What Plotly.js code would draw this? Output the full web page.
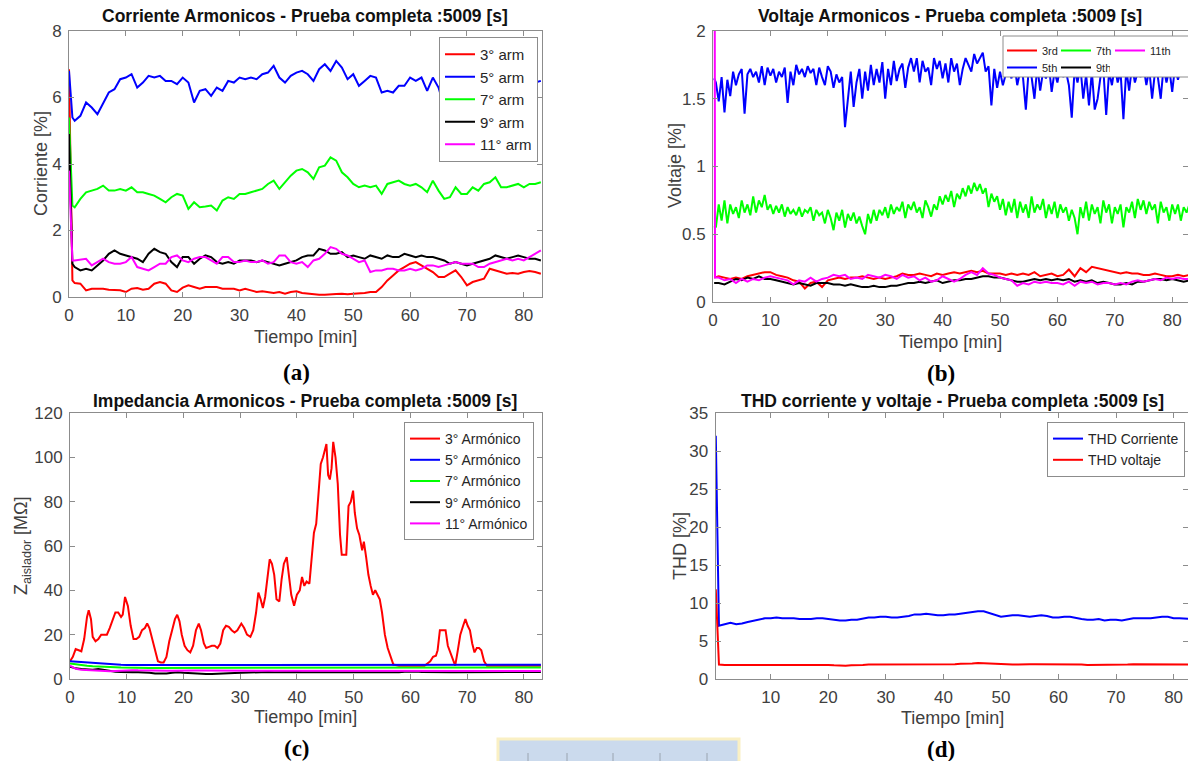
<!DOCTYPE html>
<html><head><meta charset="utf-8">
<script src="https://cdn.plot.ly/plotly-3.0.1.min.js"></script>
<style>html,body{margin:0;padding:0;background:#fff}#chart{width:1188px;height:761px}</style>
</head><body><div id="chart"></div>
<script>
// ---------- Panel (a): Corriente armonicos [%] ----------
const tA = [0,0.6,
1,2,3,4,5,6,7,8,9,10,
11,12,13,14,15,16,17,18,19,20,
21,22,23,24,25,26,27,28,29,30,
31,32,33,34,35,36,37,38,39,40,
41,42,43,44,45,46,47,48,49,50,
51,52,53,54,55,56,57,58,59,60,
61,62,63,64,65,66,67,68,69,70,
71,72,73,74,75,76,77,78,79,80,
81,82,83];
const arm3A = [6.85,0.5,
0.42,0.4,0.2,0.25,0.25,0.25,0.22,0.2,0.2,0.15,
0.25,0.27,0.22,0.25,0.4,0.45,0.4,0.2,0.15,0.28,
0.35,0.3,0.25,0.3,0.3,0.3,0.25,0.25,0.25,0.2,
0.25,0.2,0.15,0.17,0.15,0.12,0.15,0.1,0.15,0.17,
0.12,0.1,0.08,0.07,0.07,0.07,0.09,0.1,0.08,0.1,
0.1,0.12,0.15,0.15,0.3,0.5,0.65,0.8,0.9,1.0,
1.05,0.95,0.85,0.75,0.6,0.6,0.7,0.8,0.6,0.35,
0.45,0.5,0.55,0.85,0.8,0.75,0.7,0.72,0.7,0.75,
0.78,0.75,0.7];
const arm5A = [6.8,5.4,
5.3,5.45,5.85,5.7,5.5,5.85,6.15,6.25,6.55,6.6,
6.7,6.3,6.45,6.65,6.6,6.65,6.5,6.5,6.4,6.6,
6.45,5.85,6.2,6.25,6.05,6.3,6.2,6.5,6.45,6.6,
6.55,6.6,6.55,6.7,6.75,6.95,6.6,6.45,6.65,6.75,
6.8,6.7,6.5,6.85,7.0,6.8,7.1,6.9,6.55,6.7,
6.35,6.5,6.65,6.6,6.15,6.2,6.15,6.35,6.35,6.6,
6.5,6.6,6.2,6.6,6.3,5.7,5.9,6.1,6.2,6.3,
6.4,6.3,6.2,6.4,6.5,6.4,6.3,6.4,6.5,6.4,
6.35,6.45,6.5];
const arm7A = [5.4,2.75,
2.7,2.95,3.15,3.2,3.25,3.35,3.2,3.2,3.25,3.2,
3.3,3.15,3.15,3.1,3.05,2.95,2.85,3.0,3.1,3.05,
2.65,2.85,2.7,2.72,2.75,2.6,2.9,3.0,2.95,3.1,
3.1,3.15,3.2,3.25,3.4,3.5,3.25,3.45,3.65,3.8,
3.85,3.75,3.55,3.9,3.95,4.2,4.1,3.75,3.6,3.4,
3.3,3.35,3.3,3.35,3.1,3.4,3.45,3.5,3.4,3.35,
3.4,3.3,3.15,3.5,3.2,2.95,3.0,3.3,3.1,3.1,
3.3,3.2,3.4,3.45,3.6,3.3,3.3,3.35,3.4,3.3,
3.4,3.4,3.45];
const arm9A = [4.9,1.0,
0.9,0.8,0.85,0.8,0.95,1.1,1.3,1.4,1.3,1.25,
1.2,1.15,1.05,1.3,1.45,1.35,1.3,1.05,0.9,1.2,
1.2,1.0,1.15,1.25,1.2,1.05,1.0,1.05,1.0,1.1,
1.1,1.1,1.05,1.1,1.05,1.0,0.95,1.0,1.05,1.1,
1.2,1.25,1.25,1.45,1.4,1.3,1.3,1.35,1.2,1.25,
1.2,1.15,1.25,1.2,1.15,1.25,1.2,1.2,1.3,1.25,
1.2,1.25,1.2,1.2,1.15,1.1,1.0,1.05,1.0,0.95,
1.0,1.05,1.1,1.15,1.25,1.2,1.15,1.2,1.25,1.2,
1.15,1.15,1.1];
const arm11A = [3.8,1.1,
1.1,1.12,1.15,0.95,1.05,1.15,1.05,1.0,1.0,1.05,
1.2,0.9,0.85,0.8,0.9,1.0,1.0,1.2,1.25,1.1,
1.05,1.15,1.2,1.2,1.1,1.0,1.2,1.2,1.05,1.05,
1.1,1.05,1.05,1.1,1.0,1.05,1.25,1.25,1.05,1.0,
1.05,0.9,1.1,1.15,1.3,1.5,1.45,1.3,1.25,1.15,
1.05,1.1,0.75,0.8,0.8,0.85,0.85,0.8,0.8,0.85,
0.8,0.85,0.95,0.95,0.9,0.95,1.0,1.05,1.0,1.0,
1.0,0.9,0.9,1.0,1.05,1.1,1.15,1.1,1.15,1.1,
1.2,1.3,1.4];
const namesA = ['3° arm','5° arm','7° arm','9° arm','11° arm'];

// ---------- Panel (b): Voltaje armonicos [%] ----------
const tB = [0.2,
0.5,1,1.5,2,2.5,3,3.5,4,4.5,5,
5.5,6,6.5,7,7.5,8,8.5,9,9.5,10,
10.5,11,11.5,12,12.5,13,13.5,14,14.5,15,
15.5,16,16.5,17,17.5,18,18.5,19,19.5,20,
20.5,21,21.5,22,22.5,23,23.5,24,24.5,25,
25.5,26,26.5,27,27.5,28,28.5,29,29.5,30,
30.5,31,31.5,32,32.5,33,33.5,34,34.5,35,
35.5,36,36.5,37,37.5,38,38.5,39,39.5,40,
40.5,41,41.5,42,42.5,43,43.5,44,44.5,45,
45.5,46,46.5,47,47.5,48,48.5,49,49.5,50,
50.5,51,51.5,52,52.5,53,53.5,54,54.5,55,
55.5,56,56.5,57,57.5,58,58.5,59,59.5,60,
60.5,61,61.5,62,62.5,63,63.5,64,64.5,65,
65.5,66,66.5,67,67.5,68,68.5,69,69.5,70,
70.5,71,71.5,72,72.5,73,73.5,74,74.5,75,
75.5,76,76.5,77,77.5,78,78.5,79,79.5,80,
80.5,81,81.5,82,82.5,83];
const arm5B = [1.65,
1.62,1.48,1.66,1.40,1.64,1.52,1.70,1.60,1.68,1.72,
1.39,1.68,1.72,1.66,1.70,1.62,1.74,1.60,1.73,1.67,
1.72,1.62,1.70,1.66,1.73,1.47,1.70,1.60,1.75,1.68,
1.72,1.66,1.74,1.69,1.72,1.60,1.73,1.66,1.60,1.74,
1.70,1.58,1.68,1.62,1.66,1.29,1.50,1.70,1.44,1.62,
1.72,1.50,1.70,1.56,1.75,1.60,1.72,1.62,1.77,1.50,
1.72,1.60,1.78,1.63,1.72,1.76,1.58,1.73,1.80,1.70,
1.80,1.62,1.78,1.70,1.73,1.60,1.80,1.72,1.78,1.65,
1.76,1.62,1.80,1.70,1.76,1.60,1.72,1.80,1.75,1.70,
1.83,1.76,1.80,1.84,1.70,1.74,1.45,1.72,1.58,1.70,
1.60,1.68,1.72,1.65,1.76,1.60,1.70,1.66,1.42,1.72,
1.66,1.50,1.74,1.56,1.70,1.65,1.75,1.55,1.70,1.62,
1.74,1.66,1.70,1.60,1.36,1.72,1.62,1.74,1.50,1.68,
1.45,1.70,1.42,1.50,1.66,1.72,1.38,1.70,1.60,1.74,
1.62,1.70,1.35,1.72,1.56,1.74,1.62,1.70,1.66,1.74,
1.60,1.72,1.50,1.70,1.66,1.50,1.74,1.62,1.72,1.55,
1.74,1.64,1.72,1.68,1.74,1.70];
const arm7B = [0.56,
0.55,0.72,0.60,0.75,0.58,0.72,0.65,0.70,0.62,0.75,
0.66,0.72,0.64,0.78,0.66,0.75,0.70,0.79,0.68,0.72,
0.65,0.71,0.66,0.72,0.63,0.70,0.65,0.68,0.64,0.70,
0.63,0.68,0.66,0.70,0.60,0.68,0.64,0.66,0.58,0.68,
0.62,0.53,0.66,0.60,0.68,0.55,0.65,0.60,0.66,0.58,
0.63,0.56,0.50,0.65,0.58,0.68,0.60,0.68,0.64,0.70,
0.62,0.72,0.65,0.70,0.67,0.74,0.62,0.72,0.68,0.74,
0.66,0.70,0.62,0.75,0.70,0.63,0.72,0.68,0.78,0.72,
0.79,0.74,0.82,0.70,0.80,0.76,0.84,0.78,0.86,0.80,
0.88,0.82,0.87,0.80,0.84,0.70,0.80,0.74,0.78,0.68,
0.76,0.64,0.74,0.66,0.76,0.62,0.74,0.66,0.72,0.62,
0.78,0.66,0.72,0.68,0.76,0.62,0.72,0.65,0.74,0.62,
0.72,0.66,0.70,0.60,0.68,0.62,0.50,0.70,0.62,0.74,
0.60,0.72,0.65,0.70,0.58,0.75,0.66,0.72,0.58,0.70,
0.65,0.72,0.55,0.70,0.66,0.74,0.62,0.76,0.68,0.75,
0.65,0.74,0.68,0.72,0.58,0.74,0.66,0.70,0.60,0.72,
0.65,0.72,0.60,0.70,0.66,0.72];
const tB1 = [0.2,
1,2,3,4,5,6,7,8,9,10,
11,12,13,14,15,16,17,18,19,20,
21,22,23,24,25,26,27,28,29,30,
31,32,33,34,35,36,37,38,39,40,
41,42,43,44,45,46,47,48,49,50,
51,52,53,54,55,56,57,58,59,60,
61,62,63,64,65,66,67,68,69,70,
71,72,73,74,75,76,77,78,79,80,
81,82,83];
const arm3B = [0.18,
0.19,0.18,0.17,0.18,0.17,0.19,0.2,0.21,0.22,0.22,
0.2,0.19,0.18,0.16,0.15,0.1,0.14,0.15,0.11,0.16,
0.17,0.18,0.17,0.18,0.18,0.19,0.18,0.17,0.18,0.17,
0.18,0.19,0.21,0.2,0.2,0.21,0.2,0.19,0.21,0.2,
0.21,0.22,0.21,0.22,0.23,0.22,0.23,0.21,0.21,0.21,
0.2,0.21,0.2,0.21,0.2,0.22,0.19,0.2,0.21,0.19,
0.2,0.24,0.19,0.25,0.22,0.26,0.25,0.24,0.23,0.22,
0.21,0.22,0.21,0.21,0.2,0.2,0.21,0.2,0.19,0.19,
0.2,0.19,0.2];
const arm9B = [0.14,
0.14,0.13,0.15,0.17,0.16,0.18,0.17,0.19,0.17,0.17,
0.16,0.15,0.14,0.13,0.14,0.13,0.12,0.14,0.14,0.14,
0.13,0.13,0.12,0.13,0.12,0.11,0.11,0.12,0.11,0.11,
0.12,0.12,0.13,0.14,0.14,0.15,0.14,0.15,0.16,0.14,
0.15,0.16,0.16,0.17,0.17,0.18,0.19,0.19,0.18,0.18,
0.17,0.16,0.15,0.15,0.16,0.17,0.16,0.17,0.16,0.17,
0.16,0.17,0.15,0.16,0.15,0.16,0.14,0.15,0.14,0.13,
0.13,0.14,0.13,0.15,0.15,0.16,0.17,0.17,0.16,0.17,
0.16,0.15,0.16];
const tB11 = [0.3,0.35,
1,2,3,4,5,6,7,8,9,10,
11,12,13,14,15,16,17,18,19,20,
21,22,23,24,25,26,27,28,29,30,
31,32,33,34,35,36,37,38,39,40,
41,42,43,44,45,46,47,48,49,50,
51,52,53,54,55,56,57,58,59,60,
61,62,63,64,65,66,67,68,69,70,
71,72,73,74,75,76,77,78,79,80,
81,82,83];
const arm11B = [2.5,0.18,
0.18,0.16,0.17,0.14,0.17,0.15,0.17,0.16,0.18,0.19,
0.18,0.17,0.16,0.13,0.16,0.15,0.18,0.15,0.17,0.18,
0.2,0.19,0.2,0.17,0.18,0.17,0.2,0.19,0.18,0.2,
0.19,0.17,0.2,0.18,0.19,0.16,0.18,0.15,0.16,0.19,
0.17,0.15,0.17,0.2,0.22,0.2,0.25,0.21,0.2,0.18,
0.17,0.16,0.12,0.14,0.13,0.15,0.14,0.15,0.14,0.14,
0.13,0.15,0.12,0.15,0.14,0.15,0.13,0.14,0.14,0.13,
0.14,0.13,0.15,0.16,0.15,0.16,0.17,0.16,0.18,0.17,
0.18,0.17,0.17];
const namesB = ['3rd','5th','7th','9th','11th'];

// ---------- Panel (c): Impedancia [MOhm] ----------
const tZ3 = [0,0.5,1,1.5,2,2.5,3,3.3,3.7,4,
4.5,5,5.5,6,6.5,7,7.5,8,8.5,9,
9.3,9.7,10.2,10.7,11.2,11.7,12.2,12.7,13.2,13.6,
14,14.5,15,15.5,16,16.5,17,17.5,18,18.5,
18.9,19.3,19.7,20.2,20.7,21.2,21.7,22.2,22.7,23.1,
23.6,24,24.5,25,25.5,26,26.5,27,27.5,28,
28.5,29,29.5,30.2,30.7,31.2,31.8,32.3,32.8,33.2,
33.6,34,34.4,34.8,35.2,35.6,36,36.4,36.9,37.3,
37.7,38.2,38.6,39,39.5,40,40.5,40.9,41.3,41.7,
42.2,42.6,43,43.4,43.8,44.2,44.6,45.2,45.5,45.8,
46.1,46.4,46.8,47.2,47.6,47.9,48.3,48.7,49.1,49.5,
49.9,50.2,50.6,51,51.5,51.8,52.2,52.6,53,53.4,
53.8,54.2,54.6,55,55.5,56,56.5,57,58,60,
62.5,63,63.5,64,64.5,64.8,65.2,65.7,66.2,66.6,
67,67.5,67.9,68.3,68.8,69.3,69.7,70.1,70.5,70.9,
71.3,71.7,72.1,72.5,73,73.5,75,80,83];
const z3 = [8,10,13.5,13,12.5,18,28,31,27,19,
17,18,20,20,20,23,27,30,30,28,
29,37,33,24,18,18,19,22,23,25,
23,18,12,8,7.5,7.5,10,17,22,27,
29,26,20,15,13,12,15,22,25,22,
16,14,14.5,15,15,14,16,22,24,23.5,
22,21,22,25,23,20,19,22,30,39,
36,32,37,45,54,52,47,36,35,45,
52,55,45,38,33,38,40,46,42,44,
43,55,66,70,85,97,100,106,92,90,
95,107,100,88,65,56,56,56,78,80,
85,75,68,65,58,62,55,47,42,38,
40,38,36,30,20,14,10,6.5,6,6,
6,7,8,10,10.5,13,22,22,22,15,
12,8,6,12,20,24,27,24,22,16,
12,14,14,13,8,6,6,6,6];
const tC = [0,1,2,3,4,5,6,7,8,9,
10,11,12,13,14,15,16,17,18,19,
20,21,22,23,24,25,26,27,28,29,
30,31,32,33,34,35,36,37,38,39,
40,41,42,43,44,45,46,47,48,49,
50,51,52,53,54,55,56,57,58,59,
60,61,62,63,64,65,66,67,68,69,
70,71,72,73,74,75,76,77,78,79,
80,81,82,83];
const z5C = [8,7.8,7.6,7.3,7.2,7.1,7.0,6.8,6.6,6.4,
6.3,6.3,6.2,6.2,6.2,6.2,6.2,6.2,6.2,6.2,
6.2,6.2,6.2,6.2,6.2,6.2,6.2,6.2,6.2,6.2,
6.2,6.2,6.2,6.2,6.2,6.2,6.2,6.2,6.2,6.2,
6.2,6.2,6.2,6.2,6.2,6.2,6.2,6.2,6.2,6.2,
6.2,6.2,6.2,6.2,6.2,6.2,6.2,6.2,6.3,6.3,
6.4,6.4,6.5,6.5,6.5,6.5,6.5,6.5,6.5,6.5,
6.5,6.5,6.5,6.5,6.5,6.5,6.5,6.5,6.5,6.5,
6.4,6.4,6.4,6.4];
const z7C = [7,6.6,6.2,6.0,5.8,5.6,5.5,5.4,5.3,5.2,
5.1,5.1,5.0,5.0,5.0,5.0,5.0,5.0,5.0,5.0,
5.0,5.0,5.0,5.0,5.0,5.0,5.0,5.0,5.0,5.0,
5.0,5.0,5.0,5.0,5.0,5.0,5.0,5.0,5.0,5.0,
5.0,5.0,5.0,5.0,5.0,5.0,5.0,5.0,5.0,5.0,
5.0,5.0,5.0,5.0,5.0,5.0,5.0,5.0,5.1,5.1,
5.1,5.2,5.2,5.2,5.2,5.2,5.2,5.2,5.2,5.2,
5.2,5.2,5.2,5.2,5.2,5.2,5.2,5.2,5.2,5.2,
5.2,5.2,5.2,5.2];
const z9C = [5.5,4.8,4.5,4.3,4.2,4.5,4.0,3.6,3.3,3.2,
3.3,3.1,3.0,3.0,2.8,2.5,2.4,2.5,2.8,3.0,
2.8,2.6,2.4,2.5,2.3,2.3,2.5,2.6,2.6,2.7,
2.8,3.0,2.9,3.0,3.1,3.2,3.0,3.1,3.2,3.3,
3.2,3.1,3.1,3.0,3.0,3.0,2.9,3.0,3.0,3.1,
3.0,2.9,3.0,3.0,3.1,3.2,3.0,3.0,3.1,3.3,
3.5,3.4,3.2,3.1,3.0,3.0,3.1,3.0,3.0,3.0,
3.1,3.1,3.2,3.2,3.1,3.1,3.2,3.2,3.2,3.1,
3.2,3.3,3.2,3.2];
const z11C = [6,4.6,4.2,4.0,3.9,3.8,3.6,3.5,3.6,3.8,
4.0,4.0,3.9,3.8,3.8,3.8,3.8,3.7,3.7,3.8,
3.8,3.8,3.8,3.8,3.8,3.8,3.8,3.8,3.8,3.8,
3.8,3.8,3.8,3.8,3.8,3.8,3.8,3.8,3.8,3.8,
3.8,3.8,3.8,3.8,3.8,3.8,3.8,3.8,3.8,3.8,
3.7,3.7,3.7,3.7,3.7,3.7,3.7,3.7,3.7,3.7,
3.7,3.7,3.7,3.6,3.6,3.6,3.6,3.6,3.6,3.6,
3.6,3.6,3.6,3.6,3.6,3.6,3.6,3.6,3.6,3.6,
3.6,3.6,3.6,3.6];
const namesC = ['3° Armónico','5° Armónico','7° Armónico','9° Armónico','11° Armónico'];

// ---------- Panel (d): THD [%] ----------
const tD = [0.45,
1,2,3,4,5,6,7,8,9,10,
11,12,13,14,15,16,17,18,19,20,
21,22,23,24,25,26,27,28,29,30,
31,32,33,34,35,36,37,38,39,40,
41,42,43,44,45,46,47,48,49,50,
51,52,53,54,55,56,57,58,59,60,
61,62,63,64,65,66,67,68,69,70,
71,72,73,74,75,76,77,78,79,80,
81,82,83];
const thdI = [32,
7.0,7.2,7.4,7.2,7.3,7.5,7.7,7.8,8.0,8.0,
8.1,8.0,8.0,8.0,7.9,7.9,7.9,8.0,8.0,7.9,
7.8,7.7,7.7,7.8,7.8,8.0,8.1,8.1,8.2,8.2,
8.1,8.1,8.2,8.3,8.5,8.5,8.6,8.5,8.4,8.4,
8.5,8.5,8.6,8.7,8.8,8.9,8.9,8.7,8.4,8.2,
8.3,8.4,8.4,8.3,8.2,8.3,8.4,8.3,8.1,8.1,
8.2,8.2,8.0,7.9,7.8,7.8,7.9,7.7,7.8,7.8,
7.7,7.9,8.0,8.0,8.0,8.0,8.1,8.2,8.2,8.0,
8.0,7.9,7.9];
const thdV = [11.8,
1.9,1.85,1.85,1.85,1.85,1.9,1.9,1.9,1.9,1.9,
1.9,1.9,1.9,1.9,1.85,1.85,1.85,1.85,1.9,1.85,
1.8,1.75,1.75,1.8,1.8,1.85,1.9,1.9,1.9,1.95,
1.95,1.9,1.9,1.95,1.95,1.95,1.95,1.95,1.95,1.95,
1.95,1.95,2.0,2.0,2.05,2.1,2.1,2.05,2.0,1.95,
1.9,1.9,1.9,1.95,1.95,1.95,1.95,1.95,1.95,1.95,
1.95,1.9,1.9,1.9,1.85,1.85,1.85,1.85,1.9,1.9,
1.9,1.9,1.95,1.95,1.95,1.95,1.95,1.95,1.95,1.95,
1.9,1.9,1.9];
const namesD = ['THD Corriente','THD voltaje'];

// ---------- styling ----------
const COL = ['rgb(255,0,0)','rgb(0,0,255)','rgb(0,255,0)','rgb(0,0,0)','rgb(255,0,255)'];
const F = 'Liberation Sans, Arial, Helvetica, sans-serif';
const LC = '#8c8c8c', TC = '#404040';
const W = 1188, H = 761;
const px = v => v / W, py = v => 1 - v / H;

function line(x, y, name, color, xa, ya, legend, extra) {
  return Object.assign({type:'scatter', mode:'lines', x, y, name, xaxis:xa, yaxis:ya, legend,
          line:{color, width:2}, hoverinfo:'skip'}, extra || {});
}
const traces = [];
[arm3A, arm5A, arm7A, arm9A, arm11A].forEach((v,i)=>traces.push(line(tA, v, namesA[i], COL[i], 'x', 'y', 'legend')));
traces.push(line(tB1, arm3B, namesB[0], COL[0], 'x2', 'y2', 'legend2'));
traces.push(line(tB, arm5B, namesB[1], COL[1], 'x2', 'y2', 'legend3'));
traces.push(line(tB, arm7B, namesB[2], COL[2], 'x2', 'y2', 'legend2'));
traces.push(line(tB1, arm9B, namesB[3], COL[3], 'x2', 'y2', 'legend3'));
traces.push(line(tB11, arm11B, namesB[4], COL[4], 'x2', 'y2', 'legend2', {legendwidth:24}));
traces.push(line(tZ3, z3, namesC[0], COL[0], 'x3', 'y3', 'legend4'));
[z5C, z7C, z9C, z11C].forEach((v,i)=>traces.push(line(tC, v, namesC[i+1], COL[i+1], 'x3', 'y3', 'legend4')));
traces.push(line(tD, thdI, namesD[0], COL[1], 'x4', 'y4', 'legend5'));
traces.push(line(tD, thdV, namesD[1], COL[0], 'x4', 'y4', 'legend5'));

function ax(domain, range, anchor, extra) {
  return Object.assign({domain, range, anchor, showline:true, linecolor:LC, linewidth:1, mirror:'ticks',
    ticks:'inside', ticklen:5, tickcolor:LC, tickwidth:1, showgrid:false, zeroline:false, fixedrange:true,
    tickfont:{family:F, size:17, color:TC}}, extra || {});
}
const legBase = {bgcolor:'#ffffff', bordercolor:'#8c8c8c', borderwidth:1, tracegroupgap:0,
  xanchor:'right', yanchor:'top'};

const ann = [];
function txt(text, x, y, font, opts) {
  ann.push(Object.assign({text, x:px(x), y:py(y), xref:'paper', yref:'paper', showarrow:false,
    xanchor:'center', yanchor:'middle', font}, opts || {}));
}
const tFont = {family:F, size:17.5, color:'#111'};
const aFont = {family:F, size:18, color:TC};
// titles
txt('<b>Corriente Armonicos - Prueba completa :5009 [s]</b>', 305, 16, tFont);
txt('<b>Voltaje Armonicos - Prueba completa :5009 [s]</b>', 950, 16, tFont);
txt('<b>Impedancia Armonicos - Prueba completa :5009 [s]</b>', 305, 401, tFont);
txt('<b>THD corriente y voltaje - Prueba completa :5009 [s]</b>', 952, 401, tFont);
// axis titles
txt('Tiempo [min]', 305, 337, aFont);
txt('Tiempo [min]', 950, 342, aFont);
txt('Tiempo [min]', 305, 717, aFont);
txt('Tiempo [min]', 952, 718, aFont);
txt('Corriente [%]', 41, 164, aFont, {textangle:-90});
txt('Voltaje [%]', 675, 166, aFont, {textangle:-90});
txt('Z<sub>aislador</sub> [MΩ]', 22, 546, aFont, {textangle:-90});
txt('THD [%]', 680, 546, aFont, {textangle:-90});
// panel letters
const lFont = {family:'Liberation Serif, Times New Roman, serif', size:23, color:'#000'};
txt('<b>(a)</b>', 296, 372, lFont);
txt('<b>(b)</b>', 941, 373, lFont);
txt('<b>(c)</b>', 297, 748, lFont);
txt('<b>(d)</b>', 941, 749, lFont);

const shapes = [
  // legend box of panel (b)
  {type:'rect', xref:'paper', yref:'paper', x0:px(1003), x1:px(1195), y0:py(77), y1:py(36),
   fillcolor:'#ffffff', line:{color:'#8c8c8c', width:1}, layer:'above'},
  // watermark block at the bottom
  {type:'rect', xref:'paper', yref:'paper', x0:px(498), x1:px(739), y0:py(770), y1:py(739),
   fillcolor:'rgb(203,218,237)', line:{color:'rgb(250,240,196)', width:3}, layer:'below'}
];
[528, 567, 613, 660, 707].forEach(x => shapes.push({type:'line', xref:'paper', yref:'paper',
  x0:px(x), x1:px(x), y0:py(761), y1:py(753), line:{color:'#9aa4b0', width:1}, layer:'below'}));

const legB = {xanchor:'left', yanchor:'top', orientation:'h', bgcolor:'rgba(0,0,0,0)',
  borderwidth:0, entrywidth:9, entrywidthmode:'pixels', font:{family:F, size:11, color:'#262626'}};

const layout = {
  width:W, height:H, margin:{l:0, r:0, t:0, b:0}, paper_bgcolor:'#fff', plot_bgcolor:'#fff',
  showlegend:true, font:{family:F, color:TC},
  xaxis:  ax([px(69), px(542)], [0, 83.2], 'y', {dtick:10, tick0:0, ticklabelstandoff:3}),
  yaxis:  ax([py(297), py(31)], [0, 8], 'x', {dtick:2, ticklabelstandoff:3}),
  xaxis2: ax([px(713), 1], [0, 82.75], 'y2', {dtick:10, tick0:0, ticklabelstandoff:3}),
  yaxis2: ax([py(302), py(31)], [0, 2], 'x2', {dtick:0.5, ticklabelstandoff:3}),
  xaxis3: ax([px(70), px(542)], [0, 83.2], 'y3', {dtick:10, tick0:0, ticklabelstandoff:3}),
  yaxis3: ax([py(679), py(413)], [0, 120], 'x3', {dtick:20, ticklabelstandoff:3}),
  xaxis4: ax([px(715.5), 1], [0.4, 82.5], 'y4', {dtick:10, tick0:0, ticklabelstandoff:3}),
  yaxis4: ax([py(679), py(413)], [0, 35], 'x4', {dtick:5, ticklabelstandoff:3}),
  legend:  Object.assign({}, legBase, {x:px(538), y:py(37), font:{family:F, size:15, color:'#262626'}}),
  legend2: Object.assign({}, legB, {x:px(1002), y:py(36)}),
  legend3: Object.assign({}, legB, {x:px(1002), y:py(53)}),
  legend4: Object.assign({}, legBase, {x:px(534), y:py(422), font:{family:F, size:14, color:'#262626'}}),
  legend5: Object.assign({}, legBase, {x:px(1185), y:py(422), font:{family:F, size:14, color:'#262626'}}),
  annotations: ann, shapes
};
Plotly.newPlot('chart', traces, layout, {staticPlot:true, displayModeBar:false});
</script></body></html>
